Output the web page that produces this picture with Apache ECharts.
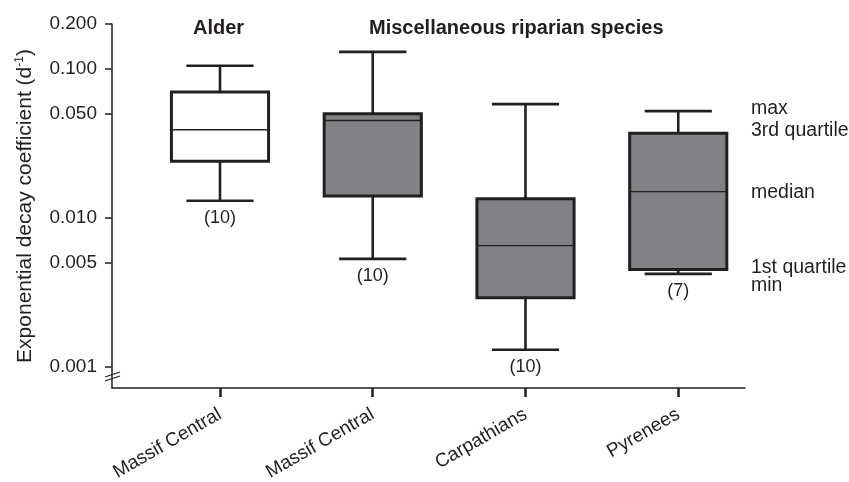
<!DOCTYPE html>
<html>
<head>
<meta charset="utf-8">
<title>Exponential decay coefficients</title>
<script src="https://cdn.jsdelivr.net/npm/echarts@6.0.0/dist/echarts.min.js"></script>
<style>
  html, body { margin: 0; padding: 0; background: #ffffff; }
  #chart { width: 849px; height: 482px; }
</style>
</head>
<body>
<div id="chart"></div>
<script>
  // sites on the x axis
  var categories = ['Massif Central', 'Massif Central', 'Carpathians', 'Pyrenees'];
  var litterGroup = ['Alder', 'Misc', 'Misc', 'Misc'];
  // five-number summary per site (d-1)
  var minValues = [0.013, 0.0053, 0.0013, 0.0042];
  var q1Values = [0.024, 0.014, 0.0029, 0.0045];
  var medianValues = [0.039, 0.045, 0.0065, 0.015];
  var q3Values = [0.070, 0.050, 0.0134, 0.037];
  var maxValues = [0.105, 0.13, 0.058, 0.052];
  var sampleSizes = [10, 10, 10, 7];
  var yTicks = [0.001, 0.005, 0.01, 0.05, 0.1, 0.2];
  var xTicks = [0, 1, 2, 3];

  var ink = '#231f20';
  var font = 'Liberation Sans, Arial, Helvetica, sans-serif';

  var boxData = categories.map(function (c, i) {
    return [i, minValues[i], q1Values[i], medianValues[i], q3Values[i], maxValues[i], sampleSizes[i]];
  });

  function renderBox(params, api) {
    var i = api.value(0);
    var x = api.coord([i, api.value(3)])[0];
    var yMin = api.coord([i, api.value(1)])[1];
    var yQ1 = api.coord([i, api.value(2)])[1];
    var yMed = api.coord([i, api.value(3)])[1];
    var yQ3 = api.coord([i, api.value(4)])[1];
    var yMax = api.coord([i, api.value(5)])[1];
    var band = api.size([1, 0])[0];
    var half = band * 0.318;
    var cap = band * 0.22;
    var fill = litterGroup[params.dataIndex] === 'Alder' ? '#ffffff' : '#818285';
    var lineStyle = { stroke: ink, lineWidth: 2.6 };
    return {
      type: 'group',
      children: [
        { type: 'line', shape: { x1: x, y1: yMax, x2: x, y2: yQ3 }, style: lineStyle },
        { type: 'line', shape: { x1: x, y1: yQ1, x2: x, y2: yMin }, style: lineStyle },
        { type: 'line', shape: { x1: x - cap, y1: yMax, x2: x + cap, y2: yMax }, style: lineStyle },
        { type: 'line', shape: { x1: x - cap, y1: yMin, x2: x + cap, y2: yMin }, style: lineStyle },
        { type: 'rect', shape: { x: x - half, y: yQ3, width: half * 2, height: yQ1 - yQ3 },
          style: { fill: fill, stroke: ink, lineWidth: 3 } },
        { type: 'line', shape: { x1: x - half, y1: yMed, x2: x + half, y2: yMed },
          style: { stroke: ink, lineWidth: 1.3 } },
        { type: 'text', style: { text: '(' + api.value(6) + ')', x: x, y: yMin + 8,
          align: 'center', verticalAlign: 'top', fontSize: 18, fontFamily: font, fill: ink } }
      ]
    };
  }

  var chart = echarts.init(document.getElementById('chart'));
  chart.setOption({
    backgroundColor: '#ffffff',
    animation: false,
    textStyle: { fontFamily: font, color: ink },
    grid: { left: 112, right: 104, top: 24, bottom: 94, outerBoundsMode: 'none' },
    xAxis: {
      type: 'value',
      min: -0.707,
      max: 3.437,
      splitLine: { show: false },
      axisLine: { onZero: false, lineStyle: { color: ink, width: 1.5 } },
      axisTick: { customValues: xTicks, length: 9, lineStyle: { color: ink, width: 2.5 } },
      axisLabel: {
        customValues: xTicks,
        rotate: 30,
        margin: 25,
        fontSize: 19,
        color: ink,
        fontFamily: font,
        formatter: function (v) { return categories[Math.round(v)]; }
      }
    },
    yAxis: {
      type: 'log',
      logBase: 10,
      min: 0.00072,
      max: 0.2,
      splitLine: { show: false },
      minorTick: { show: false },
      axisLine: { onZero: false, lineStyle: { color: ink, width: 1.5 } },
      axisTick: { customValues: yTicks, length: 7, lineStyle: { color: ink, width: 1.5 } },
      axisLabel: {
        customValues: yTicks,
        fontSize: 19,
        margin: 15,
        color: ink,
        fontFamily: font,
        formatter: function (v) { return Number(v).toFixed(3); }
      },
      name: 'Exponential decay coefficient (d{sup|-1})',
      nameLocation: 'middle',
      nameRotate: 90,
      nameGap: 76,
      nameTextStyle: {
        fontSize: 21,
        color: ink,
        fontFamily: font,
        rich: { sup: { fontSize: 12, padding: [0, 0, 10, 0], color: ink, fontFamily: font } }
      }
    },
    series: [{
      type: 'custom',
      renderItem: renderBox,
      encode: { x: 0, y: [1, 2, 3, 4, 5] },
      data: boxData
    }],
    graphic: [
      { type: 'text', left: 193, top: 18, style: { text: 'Alder', fontSize: 20, fontWeight: 'bold', fontFamily: font, fill: ink } },
      { type: 'text', left: 369, top: 18, style: { text: 'Miscellaneous riparian species', fontSize: 20, fontWeight: 'bold', fontFamily: font, fill: ink } },
      { type: 'text', left: 751, top: 99, style: { text: 'max', fontSize: 19.5, fontFamily: font, fill: ink } },
      { type: 'text', left: 751, top: 121, style: { text: '3rd quartile', fontSize: 19.5, fontFamily: font, fill: ink } },
      { type: 'text', left: 751, top: 183, style: { text: 'median', fontSize: 19.5, fontFamily: font, fill: ink } },
      { type: 'text', left: 751, top: 258, style: { text: '1st quartile', fontSize: 19.5, fontFamily: font, fill: ink } },
      { type: 'text', left: 751, top: 276, style: { text: 'min', fontSize: 19.5, fontFamily: font, fill: ink } },
      { type: 'line', shape: { x1: 105, y1: 377, x2: 120, y2: 372 }, style: { stroke: ink, lineWidth: 1.2 } },
      { type: 'line', shape: { x1: 105, y1: 381, x2: 120, y2: 376 }, style: { stroke: ink, lineWidth: 1.2 } }
    ]
  });
</script>
</body>
</html>
